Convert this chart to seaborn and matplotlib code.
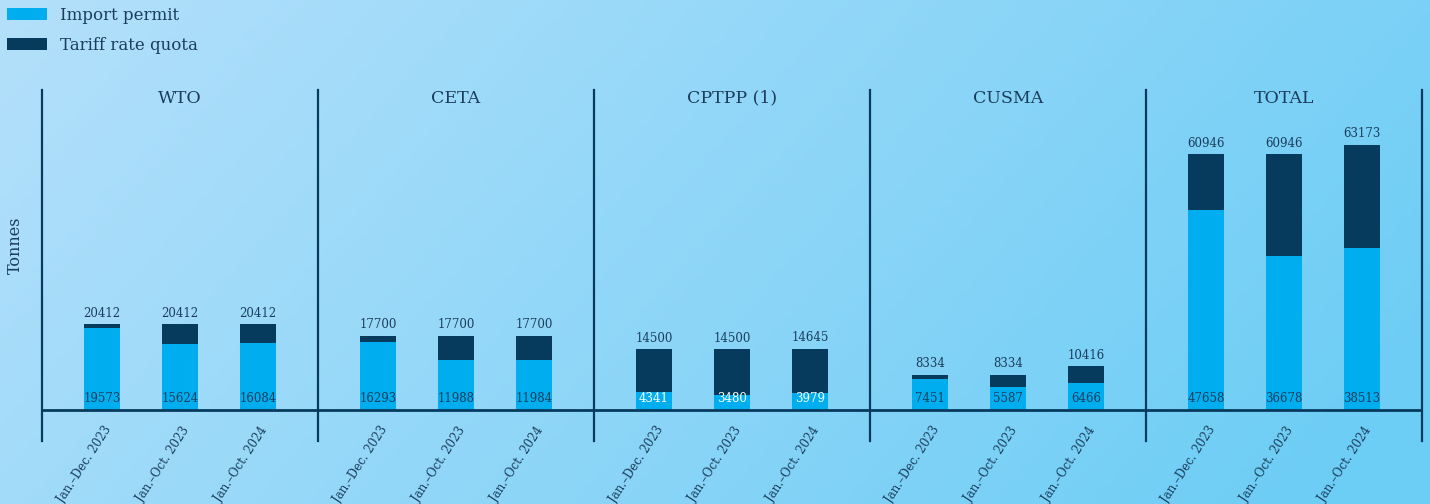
import numpy as np
import pandas as pd
import matplotlib.pyplot as plt
import seaborn as sns
from matplotlib.patches import Patch

# data
groups = ["WTO", "CETA", "CPTPP (1)", "CUSMA", "TOTAL"]
periods = ["Jan.\u2013Dec. 2023", "Jan.\u2013Oct. 2023", "Jan.\u2013Oct. 2024"]
quota = [[20412, 20412, 20412],
         [17700, 17700, 17700],
         [14500, 14500, 14645],
         [8334, 8334, 10416],
         [60946, 60946, 63173]]
permit = [[19573, 15624, 16084],
          [16293, 11988, 11984],
          [4341, 3480, 3979],
          [7451, 5587, 6466],
          [47658, 36678, 38513]]

light = "#00aeef"
dark = "#073b5e"
ink = "#1b3d5c"

sns.set_theme(style="white")
plt.rcParams["font.family"] = ["DejaVu Serif"]

W, H = 1430, 504
fig = plt.figure(figsize=(W / 100, H / 100), dpi=100)

# background gradient
bg = fig.add_axes([0, 0, 1, 1], zorder=-5)
xx, yy = np.meshgrid(np.linspace(0, 1, 300), np.linspace(0, 1, 120))
t = np.clip(0.8 * xx + 0.25 * yy, 0, 1)
c0 = np.array([0xb4, 0xe0, 0xfb]) / 255
c1 = np.array([0x6c, 0xcd, 0xf5]) / 255
img = c0[None, None, :] * (1 - t[..., None]) + c1[None, None, :] * t[..., None]
bg.imshow(img, aspect="auto", extent=[0, 1, 0, 1], origin="upper")
bg.axis("off")

edges = [42, 318, 594, 870, 1146, 1422]
top_px, bot_px = 90, 441
ymin, ymax = -7390, 76290

for i, g in enumerate(groups):
    x0 = edges[i] / W
    w = (edges[i + 1] - edges[i]) / W
    ax = fig.add_axes([x0, 1 - bot_px / H, w, (bot_px - top_px) / H])
    ax.patch.set_alpha(0)
    df = pd.DataFrame({"period": periods, "quota": quota[i], "permit": permit[i]})
    sns.barplot(data=df, x="period", y="quota", color=dark, width=0.45,
                saturation=1, linewidth=0, ax=ax, order=periods)
    sns.barplot(data=df, x="period", y="permit", color=light, width=0.45,
                saturation=1, linewidth=0, ax=ax, order=periods)
    ax.set_xlim(-0.77, 2.77)
    ax.set_ylim(ymin, ymax)
    ax.axhline(0, color=dark, lw=2, zorder=5)
    ax.set_xlabel("")
    ax.set_ylabel("")
    ax.set_yticks([])
    ax.set_xticks([])
    for s in ["top", "bottom"]:
        ax.spines[s].set_visible(False)
    ax.spines["left"].set_color(dark)
    ax.spines["left"].set_linewidth(1.6)
    ax.spines["right"].set_visible(i == len(groups) - 1)
    ax.spines["right"].set_color(dark)
    ax.spines["right"].set_linewidth(1.6)
    ax.text(0.5, 0.977, g, transform=ax.transAxes, ha="center", va="center",
            fontsize=12.5, color=ink)
    pc = "white" if g == "CPTPP (1)" else ink
    for j in range(3):
        ax.text(j, quota[i][j] + 1100, str(quota[i][j]), ha="center", va="bottom",
                fontsize=8.5, color=ink)
        ax.text(j, 1100, str(permit[i][j]), ha="center", va="bottom",
                fontsize=8.5, color=pc, zorder=6)
        ax.text(j + 0.09, -4300, periods[j], rotation=57, ha="right", va="center",
                rotation_mode="anchor", fontsize=8.5, color=ink, clip_on=False)

fig.text(15 / W, 1 - 245 / H, "Tonnes", rotation=90, ha="center", va="center",
         fontsize=11.5, color=ink)

handles = [Patch(facecolor=light, edgecolor="none", label="Import permit"),
           Patch(facecolor=dark, edgecolor="none", label="Tariff rate quota")]
leg = fig.legend(handles=handles, loc="upper left", bbox_to_anchor=(-0.003, 1.009),
                 frameon=False, fontsize=12, handlelength=2.4, handleheight=0.7,
                 labelspacing=0.75, handletextpad=0.75, borderaxespad=0.3)
for tx in leg.get_texts():
    tx.set_color(ink)

fig.savefig("out.png", dpi=100)
